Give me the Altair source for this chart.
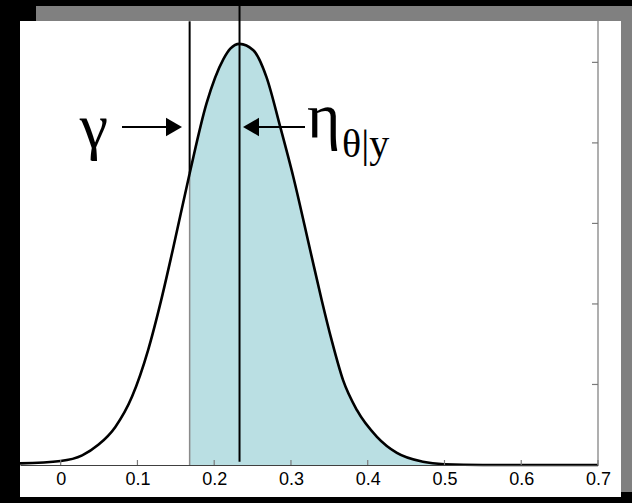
import altair as alt
import pandas as pd

# Posterior density of theta
theta = [-0.053, 0.0, 0.028, 0.049, 0.071, 0.093, 0.114, 0.131, 0.146, 0.168,
         0.190, 0.212, 0.221, 0.233, 0.251, 0.268, 0.286, 0.303, 0.325, 0.340,
         0.353, 0.368, 0.386, 0.412, 0.438, 0.472, 0.500, 0.550, 0.700]
density = [0.02, 0.05, 0.12, 0.25, 0.47, 0.85, 1.43, 2.05, 2.67, 3.62,
           4.49, 5.04, 5.17, 5.23, 5.15, 4.82, 4.20, 3.58, 2.67, 2.05,
           1.55, 1.05, 0.68, 0.35, 0.15, 0.04, 0.01, 0.0, 0.0]

x_ticks = [0, 0.1, 0.2, 0.3, 0.4, 0.5, 0.6, 0.7]
y_ticks = [1, 2, 3, 4, 5]

gamma = 0.168          # threshold
gamma_density = 3.62   # curve height at the threshold
eta = 0.233            # posterior mode
gamma_line_top = 5.51
eta_line = [0.04, 5.70]

W, H = 578, 459
X_DOM = [-0.053, 0.7]
Y_DOM = [0, 5.7]

curve = pd.DataFrame({"theta": theta, "density": density})
tail = curve[curve["theta"] >= gamma]

xs = alt.Scale(domain=X_DOM, nice=False, zero=False)
ys = alt.Scale(domain=Y_DOM, nice=False, zero=False)
one = pd.DataFrame({"k": [0]})

# Frame: grey drop shadow and white panel
shadow = alt.Chart(one).mark_rect(color="#808080").encode(
    x=alt.value(16), x2=alt.value(612), y=alt.value(0), y2=alt.value(486))
panel = alt.Chart(one).mark_rect(color="#ffffff").encode(
    x=alt.value(0), x2=alt.value(601), y=alt.value(15), y2=alt.value(491))

shade = alt.Chart(tail).mark_area(color="#badfe3", interpolate="monotone").encode(
    x=alt.X("theta:Q", scale=xs,
            axis=alt.Axis(values=x_ticks, format="~g", ticks=False, grid=False,
                          domainColor="#404040", domainWidth=1.2,
                          labelFont="Liberation Sans", labelFontSize=18,
                          labelColor="#000000", labelPadding=5,
                          labelFlush=False, title=None, zindex=1)),
    y=alt.Y("density:Q", scale=ys, axis=None),
)

edge = alt.Chart(pd.DataFrame({"x": [gamma], "y": [0], "y2": [gamma_density]})).mark_rule(
    color="#8a8a8a", strokeWidth=1.5).encode(
    x=alt.X("x:Q", scale=xs), y=alt.Y("y:Q", scale=ys), y2="y2:Q")

line = alt.Chart(curve).mark_line(color="#000000", strokeWidth=2.6,
                                  interpolate="monotone").encode(
    x=alt.X("theta:Q", scale=xs), y=alt.Y("density:Q", scale=ys))

gamma_rule = alt.Chart(pd.DataFrame({"x": [gamma], "y": [gamma_density],
                                     "y2": [gamma_line_top]})).mark_rule(
    color="#000000", strokeWidth=2).encode(
    x=alt.X("x:Q", scale=xs), y=alt.Y("y:Q", scale=ys), y2="y2:Q")

eta_rule = alt.Chart(pd.DataFrame({"x": [eta], "y": [eta_line[0]],
                                   "y2": [eta_line[1]]})).mark_rule(
    color="#000000", strokeWidth=2).encode(
    x=alt.X("x:Q", scale=xs), y=alt.Y("y:Q", scale=ys), y2="y2:Q")

# Right-hand axis line with inward ticks
right_axis = alt.Chart(one).mark_rule(color="#7a7a7a", strokeWidth=1.2).encode(
    x=alt.value(W), y=alt.value(15), y2=alt.value(H))
right_ticks = alt.Chart(pd.DataFrame({"y": y_ticks})).mark_rule(
    color="#7a7a7a", strokeWidth=1.2).encode(
    y=alt.Y("y:Q", scale=ys), x=alt.value(W - 6), x2=alt.value(W))
bottom_ticks = alt.Chart(pd.DataFrame({"x": x_ticks})).mark_rule(
    color="#7a7a7a", strokeWidth=1.2).encode(
    x=alt.X("x:Q", scale=xs), y=alt.value(H - 5), y2=alt.value(H))

# Annotation arrows and symbols
HEAD = "M-1,-1.15L1,0L-1,1.15Z"
HEAD_L = "M1,-1.15L-1,0L1,1.15Z"
arrow_g = alt.Chart(one).mark_rule(color="#000000", strokeWidth=2).encode(
    x=alt.value(102), x2=alt.value(152), y=alt.value(121))
head_g = alt.Chart(one).mark_point(shape=HEAD, size=256, filled=True,
                                   color="#000000", opacity=1).encode(
    x=alt.value(154), y=alt.value(121))
arrow_e = alt.Chart(one).mark_rule(color="#000000", strokeWidth=2).encode(
    x=alt.value(233), x2=alt.value(285), y=alt.value(121))
head_e = alt.Chart(one).mark_point(shape=HEAD_L, size=256, filled=True,
                                   color="#000000", opacity=1).encode(
    x=alt.value(231), y=alt.value(121))

txt_g = alt.Chart(one).mark_text(text="γ", font="Liberation Serif", fontSize=64,
                                 align="center", baseline="alphabetic",
                                 color="#000000").encode(
    x=alt.value(74), y=alt.value(141))
txt_e = alt.Chart(one).mark_text(text="η", font="Liberation Serif", fontSize=64,
                                 align="left", baseline="alphabetic",
                                 color="#000000").encode(
    x=alt.value(287), y=alt.value(131))
txt_sub = alt.Chart(one).mark_text(text="θ|y", font="Liberation Serif", fontSize=40,
                                   align="left", baseline="alphabetic",
                                   color="#000000").encode(
    x=alt.value(322), y=alt.value(151))

chart = alt.layer(
    shadow, panel, shade, edge, line, gamma_rule, eta_rule,
    right_axis, right_ticks, bottom_ticks,
    arrow_g, head_g, arrow_e, head_e, txt_g, txt_e, txt_sub,
).properties(
    width=W, height=H, background="#000000",
    padding={"left": 20, "top": 6, "right": 34, "bottom": 38},
    autosize=alt.AutoSizeParams(type="none"),
).configure_view(stroke=None)

chart.save("out.html", embed_options={"renderer": "svg", "actions": False})
